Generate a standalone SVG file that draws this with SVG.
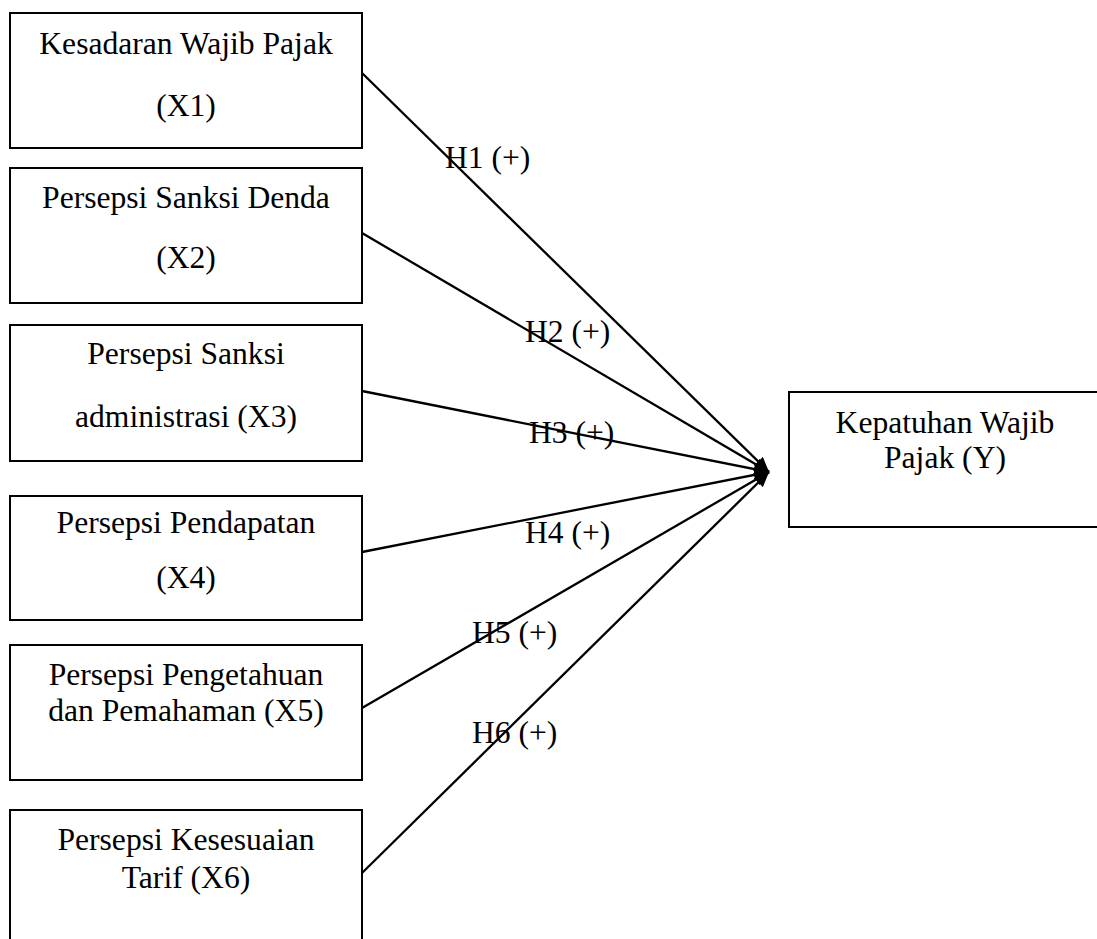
<svg xmlns="http://www.w3.org/2000/svg" width="1097" height="939" viewBox="0 0 1097 939">
<style>
.box{fill:#fff;stroke:#000;stroke-width:2}
.t{font-family:"Liberation Serif","Times New Roman",serif;font-size:31.6px;fill:#000;text-anchor:middle}
.lbl{font-family:"Liberation Serif","Times New Roman",serif;font-size:31.6px;fill:#000}
.ln{stroke:#000;stroke-width:2.3;fill:none;marker-end:url(#ah)}
</style>
<defs>
<marker id="ah" markerUnits="userSpaceOnUse" markerWidth="15" markerHeight="13" refX="15" refY="6.5" orient="auto">
<path d="M0,0 L15,6.5 L0,13 z" fill="#000"/>
</marker>
</defs>
<rect width="1097" height="939" fill="#fff"/>
<g id="x1"><rect class="box" x="10" y="13" width="352" height="135"/><text class="t" x="186" y="54">Kesadaran Wajib Pajak</text><text class="t" x="186" y="116">(X1)</text></g>
<g id="x2"><rect class="box" x="10" y="168" width="352" height="135"/><text class="t" x="186" y="208">Persepsi Sanksi Denda</text><text class="t" x="186" y="268">(X2)</text></g>
<g id="x3"><rect class="box" x="10" y="325" width="352" height="136"/><text class="t" x="186" y="364">Persepsi Sanksi</text><text class="t" x="186" y="427">administrasi (X3)</text></g>
<g id="x4"><rect class="box" x="10" y="496" width="352" height="124"/><text class="t" x="186" y="533">Persepsi Pendapatan</text><text class="t" x="186" y="588">(X4)</text></g>
<g id="x5"><rect class="box" x="10" y="645" width="352" height="135"/><text class="t" x="186" y="685">Persepsi Pengetahuan</text><text class="t" x="186" y="721">dan Pemahaman (X5)</text></g>
<g id="x6"><rect class="box" x="10" y="810" width="352" height="140"/><text class="t" x="186" y="850">Persepsi Kesesuaian</text><text class="t" x="186" y="888">Tarif (X6)</text></g>
<g id="y"><rect class="box" x="789" y="392" width="314" height="135"/><text class="t" x="945" y="433">Kepatuhan Wajib</text><text class="t" x="945" y="468">Pajak (Y)</text></g>
<g id="connectors">
<line class="ln" x1="362" y1="73" x2="769" y2="472"/>
<line class="ln" x1="362" y1="233" x2="769" y2="472"/>
<line class="ln" x1="362" y1="391" x2="769" y2="472"/>
<line class="ln" x1="362" y1="552" x2="769" y2="472"/>
<line class="ln" x1="362" y1="708" x2="769" y2="472"/>
<line class="ln" x1="362" y1="873" x2="769" y2="472"/>
<text class="lbl" x="445" y="168">H1 (+)</text>
<text class="lbl" x="525" y="342">H2 (+)</text>
<text class="lbl" x="529" y="443">H3 (+)</text>
<text class="lbl" x="525" y="543">H4 (+)</text>
<text class="lbl" x="472" y="643">H5 (+)</text>
<text class="lbl" x="472" y="743">H6 (+)</text>
</g>
</svg>
